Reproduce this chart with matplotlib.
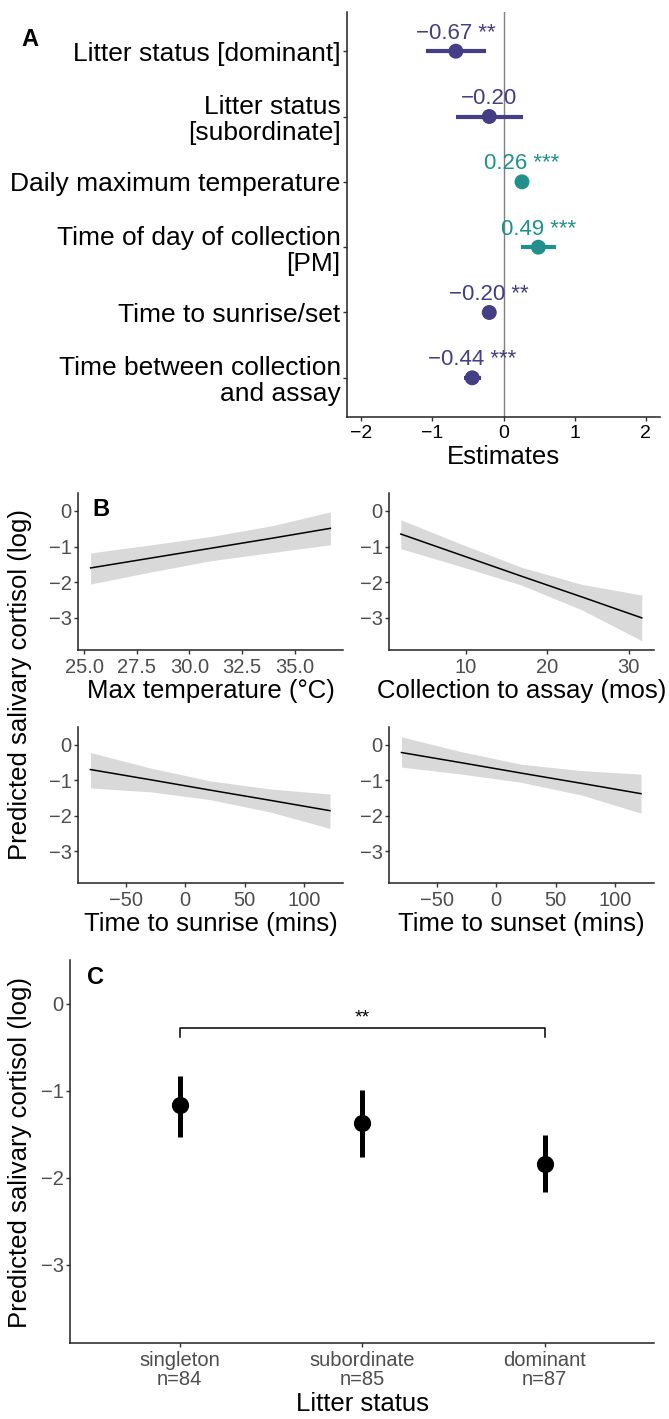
import matplotlib
matplotlib.use('Agg')
import matplotlib.pyplot as plt

plt.rcParams['font.family'] = ['Liberation Sans', 'DejaVu Sans']

# panel A: model estimates
terms = ['Litter status [dominant]', 'Litter status\n[subordinate]', 'Daily maximum temperature',
         'Time of day of collection\n[PM]', 'Time to sunrise/set', 'Time between collection\nand assay']
estimates = [-0.67, -0.20, 0.26, 0.49, -0.20, -0.44]
ci_low = [-1.09, -0.67, 0.19, 0.25, -0.26, -0.55]
ci_high = [-0.24, 0.27, 0.33, 0.74, -0.14, -0.32]
stars = ['**', '', '***', '***', '**', '***']

# panel B: marginal effects
temp_x = [25.3, 28.2, 31.0, 33.9, 36.7]
temp_fit = [-1.60, -1.32, -1.05, -0.77, -0.49]
temp_lo = [-2.05, -1.71, -1.40, -1.17, -0.95]
temp_hi = [-1.18, -0.95, -0.72, -0.42, -0.03]

assay_x = [2.0, 9.4, 16.8, 24.2, 31.6]
assay_fit = [-0.65, -1.24, -1.83, -2.41, -3.00]
assay_lo = [-1.06, -1.56, -2.08, -2.77, -3.64]
assay_hi = [-0.25, -0.93, -1.58, -2.06, -2.36]

sunrise_x = [-80, -29, 21, 72, 122]
sunrise_fit = [-0.70, -0.99, -1.28, -1.57, -1.86]
sunrise_lo = [-1.22, -1.33, -1.55, -1.90, -2.36]
sunrise_hi = [-0.22, -0.66, -1.02, -1.25, -1.39]

sunset_x = [-80, -29, 21, 72, 122]
sunset_fit = [-0.22, -0.51, -0.80, -1.09, -1.38]
sunset_lo = [-0.63, -0.83, -1.06, -1.42, -1.93]
sunset_hi = [0.22, -0.20, -0.55, -0.73, -0.83]

# panel C: litter status
groups = ['singleton\nn=84', 'subordinate\nn=85', 'dominant\nn=87']
pred = [-1.17, -1.37, -1.84]
pred_lo = [-1.53, -1.76, -2.17]
pred_hi = [-0.83, -0.99, -1.51]

W, H = 669, 1419
fig = plt.figure(figsize=(W / 100, H / 100), dpi=100)
fig.patch.set_facecolor('white')

def px_axes(left, top, right, bottom):
    return fig.add_axes([left / W, 1 - bottom / H, (right - left) / W, (bottom - top) / H])

def style(ax, tick_color='#4D4D4D', size=14.5):
    for s in ['top', 'right']:
        ax.spines[s].set_visible(False)
    for s in ['left', 'bottom']:
        ax.spines[s].set_linewidth(1.1)
        ax.spines[s].set_color('#222222')
    ax.tick_params(labelsize=size, labelcolor=tick_color, color='#333333', length=3, width=1, pad=1.5)
    ax.tick_params(axis='x', pad=3)

purple = '#433E85'
teal = '#21908C'
title_size = 18.5

# ---- A ----
axA = px_axes(347, 12, 660, 417)
style(axA, tick_color='black', size=14)
ys = [6, 5, 4, 3, 2, 1]
cols = [teal if e > 0 else purple for e in estimates]
axA.axvline(0, color='#7f7f7f', lw=1, zorder=1)
axA.hlines(ys, ci_low, ci_high, colors=cols, lw=3, zorder=2)
axA.scatter(estimates, ys, s=95, color=cols, zorder=3)
for e, y, st, c in zip(estimates, ys, stars, cols):
    lab = f'{e:.2f}'.replace('-', '\u2212')
    if st:
        lab = lab + ' ' + st
    axA.text(e, y + 0.19, lab, ha='center', va='baseline', fontsize=16, color=c)
axA.set_xlim(-2.2, 2.2)
axA.set_ylim(0.4, 6.6)
axA.set_xticks([-2, -1, 0, 1, 2])
axA.set_xticklabels(['\u22122', '\u22121', '0', '1', '2'])
axA.set_yticks(ys)
axA.set_yticklabels(terms, fontsize=19, linespacing=1.1)
axA.set_xlabel('Estimates', fontsize=18.5, labelpad=2)
fig.text(30 / W, 1 - 40 / H, 'A', fontsize=17, weight='bold', ha='center', va='center')

# ---- B ----
panels = [
    (78, 493, 343, 650, temp_x, temp_fit, temp_lo, temp_hi, (24.7, 37.3),
     [25, 27.5, 30, 32.5, 35], ['25.0', '27.5', '30.0', '32.5', '35.0'], 'Max temperature (\u00b0C)'),
    (389, 493, 654, 650, assay_x, assay_fit, assay_lo, assay_hi, (0.55, 33.1),
     [10, 20, 30], ['10', '20', '30'], 'Collection to assay (mos)'),
    (78, 727, 343, 883, sunrise_x, sunrise_fit, sunrise_lo, sunrise_hi, (-90.5, 133),
     [-50, 0, 50, 100], ['\u221250', '0', '50', '100'], 'Time to sunrise (mins)'),
    (389, 727, 654, 883, sunset_x, sunset_fit, sunset_lo, sunset_hi, (-90.5, 133),
     [-50, 0, 50, 100], ['\u221250', '0', '50', '100'], 'Time to sunset (mins)'),
]
for l, t, r, b, x, fit, lo, hi, xlim, xt, xtl, xlab in panels:
    ax = px_axes(l, t, r, b)
    style(ax)
    ax.fill_between(x, lo, hi, color='#D9D9D9', lw=0)
    ax.plot(x, fit, color='black', lw=1.1)
    ax.set_xlim(*xlim)
    ax.set_ylim(-3.9, 0.5)
    ax.set_yticks([0, -1, -2, -3])
    ax.set_yticklabels(['0', '\u22121', '\u22122', '\u22123'])
    ax.set_xticks(xt)
    ax.set_xticklabels(xtl)
    ax.set_xlabel(xlab, fontsize=title_size, labelpad=1)
fig.text(101 / W, 1 - 509 / H, 'B', fontsize=17, weight='bold', ha='center', va='center')
fig.text(20 / W, 1 - 684 / H, 'Predicted salivary cortisol (log)', fontsize=title_size, rotation=90,
         ha='center', va='center')

# ---- C ----
axC = px_axes(70, 960, 654, 1343)
style(axC)
xs = [1, 2, 3]
axC.vlines(xs, pred_lo, pred_hi, color='black', lw=3.6)
axC.scatter(xs, pred, s=130, color='black', zorder=3)
axC.plot([1, 1, 3, 3], [-0.38, -0.28, -0.28, -0.38], color='black', lw=1.1)
axC.text(2, -0.22, '**', ha='center', va='baseline', fontsize=14)
axC.set_xlim(0.4, 3.6)
axC.set_ylim(-3.9, 0.5)
axC.set_yticks([0, -1, -2, -3])
axC.set_yticklabels(['0', '\u22121', '\u22122', '\u22123'])
axC.set_xticks(xs)
axC.set_xticklabels(groups, linespacing=1.0)
axC.set_xlabel('Litter status', fontsize=title_size, labelpad=2)
fig.text(96 / W, 1 - 978 / H, 'C', fontsize=17, weight='bold', ha='center', va='center')
fig.text(20 / W, 1 - 1152 / H, 'Predicted salivary cortisol (log)', fontsize=title_size, rotation=90,
         ha='center', va='center')

fig.savefig('out.png', dpi=100)
